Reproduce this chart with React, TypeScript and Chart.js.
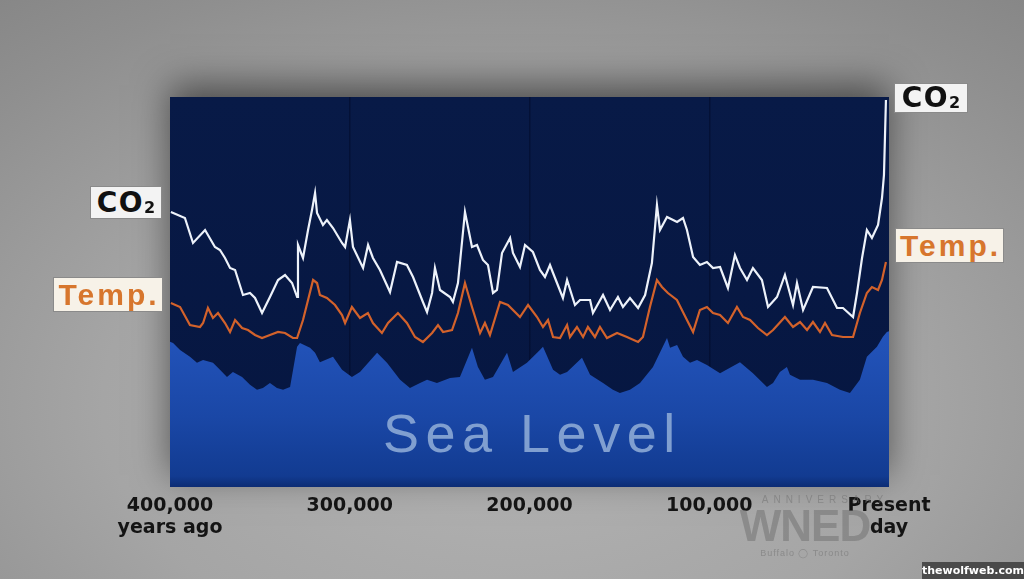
import React, { useEffect, useRef } from "react";
import { Chart, registerables } from "chart.js";

Chart.register(...registerables);

// thousands of years ago
const co2Years = [399.5, 391.7, 387.2, 380.5, 375.0, 372.2, 369.4, 366.6, 363.8, 359.4, 355.5, 352.7, 348.8, 344.4, 339.9, 336.0, 332.1, 329.3, 328.8, 326.0, 323.2, 321.0, 319.3, 318.2, 314.9, 312.7, 309.3, 304.3, 302.6, 299.9, 298.2, 292.6, 289.8, 287.1, 283.2, 277.6, 273.7, 268.2, 264.8, 259.3, 257.0, 254.2, 252.6, 249.8, 244.2, 242.6, 239.8, 235.9, 232.0, 229.2, 225.9, 223.1, 220.3, 218.1, 215.3, 210.8, 209.2, 205.3, 202.5, 198.1, 194.2, 191.4, 188.6, 186.9, 181.4, 179.1, 174.7, 171.9, 166.3, 164.7, 159.1, 155.2, 150.8, 148.0, 144.1, 139.6, 135.7, 131.9, 129.1, 127.4, 123.5, 117.9, 114.6, 112.4, 109.0, 105.2, 101.3, 97.9, 94.0, 89.6, 85.7, 82.9, 79.0, 75.7, 70.7, 67.3, 62.3, 57.9, 53.4, 51.2, 47.8, 42.3, 34.5, 28.9, 25.6, 20.0, 17.8, 15.0, 12.3, 9.5, 6.1, 3.9, 2.8, 1.7];
// ppm
const co2Ppm = [285, 279, 254, 267, 250, 247, 239, 229, 227, 202, 204, 199, 184, 200, 217, 222, 214, 200, 252, 239, 267, 287, 304, 284, 272, 277, 269, 254, 250, 277, 250, 229, 252, 239, 227, 205, 235, 232, 220, 195, 185, 204, 229, 207, 200, 195, 214, 285, 250, 252, 237, 232, 204, 207, 244, 259, 244, 230, 252, 245, 227, 220, 232, 224, 199, 217, 192, 197, 197, 184, 202, 187, 200, 190, 199, 189, 202, 234, 292, 267, 280, 275, 279, 267, 240, 232, 235, 229, 230, 209, 242, 229, 217, 229, 217, 190, 200, 222, 192, 214, 187, 210, 209, 189, 189, 180, 204, 239, 267, 259, 272, 299, 322, 397];

const tempYears = [399.5, 394.4, 388.9, 383.3, 381.6, 378.9, 376.1, 373.3, 369.4, 366.6, 363.8, 359.9, 356.6, 352.7, 348.8, 344.4, 339.9, 336.0, 331.6, 329.3, 326.0, 323.2, 320.4, 318.2, 316.6, 312.7, 308.2, 304.3, 302.6, 298.8, 294.3, 289.9, 287.1, 282.1, 278.7, 273.2, 268.2, 263.7, 259.3, 254.2, 250.9, 248.1, 243.1, 239.8, 235.9, 232.0, 227.5, 224.8, 222.0, 216.4, 212.0, 205.3, 200.8, 195.8, 192.5, 189.7, 186.9, 183.0, 179.1, 177.5, 173.6, 170.2, 167.5, 163.6, 160.8, 156.9, 151.3, 145.8, 139.6, 136.9, 133.0, 129.1, 126.3, 123.0, 118.0, 112.4, 109.0, 105.2, 101.3, 97.9, 94.0, 89.6, 84.6, 81.2, 77.3, 72.9, 67.9, 64.5, 57.9, 53.4, 49.5, 45.6, 42.3, 38.4, 35.6, 31.7, 25.6, 20.0, 16.2, 12.3, 9.5, 6.1, 3.9, 1.7];
// degrees C anomaly
const tempAnomaly = [1.25, 0.25, -4.25, -4.75, -3.75, 0, -2.5, -1.25, -3.75, -6, -3, -5, -5.5, -6.75, -7.5, -6.75, -6, -6.25, -7.5, -7.5, -3, 2, 7, 6.25, 3.25, 2.5, 0.75, -1.75, -3.75, 0.25, -2.5, -1.25, -3.75, -6.25, -3.75, -1.25, -3.75, -7.25, -8.5, -6.25, -4.25, -6, -5.5, -1.25, 6.25, 0.25, -6.25, -3.75, -6.75, 1.5, 0.75, -2.25, 0.75, -2.25, -4.75, -3, -7.25, -7.5, -4.25, -7.25, -4.75, -7.25, -4.75, -7.25, -4.75, -7.5, -6.25, -7.25, -8.5, -7.25, 0.25, 7, 5.25, 3.75, 2, -3, -6, -0.5, 0.25, -1.25, -1.75, -3.75, 0.25, -2.25, -3, -5, -6.75, -5.5, -2.25, -4.75, -3.5, -5.5, -3.5, -6, -3.75, -6.75, -7.25, -7.25, -1.25, 3.75, 5.25, 4.5, 7, 11.5];

const seaYears = [400, 398.3, 394.4, 388.9, 385.0, 381.6, 376.1, 372.2, 368.3, 365.0, 359.9, 355.5, 351.6, 348.3, 344.4, 340.5, 337.1, 333.2, 329.3, 327.7, 322.1, 319.3, 316.6, 309.3, 304.3, 298.8, 294.3, 284.8, 279.3, 272.0, 266.5, 260.9, 257.0, 251.5, 244.2, 238.7, 234.8, 232.0, 228.7, 224.8, 220.3, 212.5, 209.2, 201.4, 194.2, 192.5, 186.9, 183.0, 179.1, 170.8, 166.3, 159.1, 153.6, 149.7, 144.1, 138.5, 131.3, 123.5, 121.8, 117.9, 114.6, 110.7, 106.8, 101.3, 94.0, 82.9, 75.7, 67.9, 64.5, 60.7, 56.8, 55.1, 49.5, 42.3, 34.5, 27.3, 21.7, 16.2, 12.3, 6.7, 3.4, 1.2, 0];
// metres relative to present
const seaLevelM = [-18, -20, -33, -45, -56, -51, -56, -69, -82, -73, -82, -96, -105, -102, -93, -102, -105, -100, -27, -20, -29, -38, -55, -45, -69, -82, -73, -38, -56, -87, -102, -93, -87, -93, -84, -82, -51, -29, -64, -87, -82, -38, -73, -56, -33, -27, -69, -78, -73, -47, -78, -93, -105, -111, -105, -93, -64, -11, -29, -24, -45, -56, -51, -60, -75, -55, -75, -100, -93, -73, -64, -78, -87, -87, -93, -105, -111, -87, -45, -27, -9, 0, 1];

const tickYears = [400, 300, 200, 100, 0];
const tickLabels: (string | string[])[] = [["400,000", "years ago"], "300,000", "200,000", "100,000", ["Present", "day"]];

const toPoints = (xs: number[], ys: number[]) => xs.map((x, i) => ({ x, y: ys[i] }));

const plotBackground = {
  id: "plotBackground",
  beforeDraw(chart: any) {
    const { ctx, chartArea: a } = chart;
    if (!a) return;
    ctx.save();
    ctx.shadowColor = "rgba(0,0,0,0.5)";
    ctx.shadowBlur = 34;
    ctx.shadowOffsetY = -12;
    ctx.fillStyle = "#071844";
    ctx.fillRect(a.left, a.top, a.right - a.left, a.bottom - a.top);
    ctx.restore();
    ctx.save();
    const g = ctx.createLinearGradient(0, a.top, 0, a.bottom);
    g.addColorStop(0, "#081a47");
    g.addColorStop(1, "#061640");
    ctx.fillStyle = g;
    ctx.fillRect(a.left, a.top, a.right - a.left, a.bottom - a.top);
    ctx.restore();
  },
};

function ClimateChart() {
  const ref = useRef<HTMLCanvasElement | null>(null);
  useEffect(() => {
    if (!ref.current) return;
    const chart = new Chart(ref.current, {
      type: "line",
      data: {
        datasets: [
          {
            label: "CO2",
            data: toPoints(co2Years, co2Ppm),
            yAxisID: "y",
            borderColor: "#edf2fa",
            borderWidth: 2.2,
            pointRadius: 0,
            tension: 0,
            fill: false,
          },
          {
            label: "Temp.",
            data: toPoints(tempYears, tempAnomaly),
            yAxisID: "yT",
            borderColor: "#d3622b",
            borderWidth: 2.2,
            pointRadius: 0,
            tension: 0,
            fill: false,
          },
          {
            label: "Sea Level",
            data: toPoints(seaYears, seaLevelM),
            yAxisID: "yS",
            borderWidth: 0,
            borderColor: "rgba(0,0,0,0)",
            pointRadius: 0,
            tension: 0,
            fill: "start",
            backgroundColor: (c: any) => {
              const ch = c.chart;
              const a = ch.chartArea;
              if (!a) return "#1d4cae";
              const top = ch.scales.yS.getPixelForValue(0);
              const g = ch.ctx.createLinearGradient(0, top, 0, a.bottom);
              g.addColorStop(0, "#2354bb");
              g.addColorStop(0.55, "#1a47a6");
              g.addColorStop(0.93, "#123b91");
              g.addColorStop(1, "#0c2c74");
              return g;
            },
          },
        ],
      },
      options: {
        responsive: false,
        maintainAspectRatio: false,
        animation: false,
        events: [],
        layout: { padding: { left: 170, right: 135, top: 97, bottom: 0 } },
        plugins: { legend: { display: false }, tooltip: { enabled: false } },
        scales: {
          x: {
            type: "linear",
            reverse: true,
            min: 0,
            max: 400,
            afterBuildTicks: (s: any) => {
              s.ticks = tickYears.map((v) => ({ value: v }));
            },
            afterFit: (s: any) => {
              s.height = 92;
            },
            ticks: {
              autoSkip: false,
              maxRotation: 0,
              padding: 8,
              color: "#141414",
              font: { family: "'DejaVu Sans', sans-serif", weight: "bold", size: 19, lineHeight: 1.15 },
              callback: (_v: any, i: number) => tickLabels[i],
            },
            grid: {
              drawTicks: false,
              lineWidth: 1.5,
              color: (c: any) =>
                c.tick && (c.tick.value === 0 || c.tick.value === 400) ? "rgba(0,0,0,0)" : "rgba(0,6,30,0.4)",
            },
            border: { display: false },
          },
          y: { type: "linear", display: false, min: 10, max: 400 },
          yT: { type: "linear", display: false, min: -44.75, max: 52.75 },
          yS: { type: "linear", display: false, min: -282, max: 427 },
        },
      } as any,
      plugins: [plotBackground],
    });
    return () => chart.destroy();
  }, []);
  return <canvas ref={ref} width={1024} height={579} style={{ position: "absolute", left: 0, top: 0, display: "block" }} />;
}

const boxBase: React.CSSProperties = {
  position: "absolute",
  boxSizing: "border-box",
  border: "1px solid #8a8a8a",
  display: "flex",
  alignItems: "center",
  justifyContent: "center",
  fontWeight: 700,
  whiteSpace: "nowrap",
};

function Co2Label({ left, top, width, height }: { left: number; top: number; width: number; height: number }) {
  return (
    <div style={{ ...boxBase, left, top, width, height, background: "#f3f3f3", color: "#111", fontFamily: "'DejaVu Sans', sans-serif" }}>
      <span style={{ fontSize: 28, letterSpacing: 1.5, lineHeight: 1 }}>
        CO<span style={{ fontSize: 16, position: "relative", top: 1, letterSpacing: 0 }}>2</span>
      </span>
    </div>
  );
}

function TempLabel({ left, top, width, height }: { left: number; top: number; width: number; height: number }) {
  return (
    <div
      style={{
        ...boxBase,
        left,
        top,
        width,
        height,
        background: "#f7f2e8",
        color: "#d7762d",
        fontFamily: "'Liberation Sans', Arial, sans-serif",
      }}
    >
      <span style={{ fontSize: 30, letterSpacing: 3, lineHeight: 1, paddingLeft: 2 }}>Temp.</span>
    </div>
  );
}

export default function App() {
  return (
    <div
      style={{
        position: "fixed",
        left: 0,
        top: 0,
        width: 1024,
        height: 579,
        overflow: "hidden",
        background:
          "radial-gradient(ellipse 80% 90% at 50% 70%, #b4b4b4 0%, #a5a5a5 50%, #8f8f8f 85%, #878787 100%)",
      }}
    >
      <ClimateChart />
      <div
        style={{
          position: "absolute",
          left: 383,
          top: 406,
          fontFamily: "'Liberation Sans', Arial, sans-serif",
          fontSize: 54,
          lineHeight: 1,
          letterSpacing: 6.5,
          color: "#809fd0",
          whiteSpace: "nowrap",
        }}
      >
        Sea Level
      </div>
      <Co2Label left={90} top={186} width={72} height={33} />
      <TempLabel left={53} top={277} width={110} height={35} />
      <Co2Label left={894} top={83} width={74} height={30} />
      <TempLabel left={895} top={228} width={109} height={35} />
      <div
        style={{
          position: "absolute",
          left: 720,
          top: 494,
          width: 170,
          textAlign: "center",
          color: "rgba(110,110,110,0.5)",
          fontFamily: "'Liberation Sans', Arial, sans-serif",
          pointerEvents: "none",
        }}
      >
        <div style={{ fontSize: 10, letterSpacing: 5, lineHeight: "12px", paddingLeft: 40 }}>ANNIVERSARY</div>
        <div style={{ fontSize: 44, fontWeight: 700, lineHeight: "40px", letterSpacing: -1 }}>WNED</div>
        <div style={{ fontSize: 9, lineHeight: "14px", letterSpacing: 1 }}>Buffalo ◯ Toronto</div>
      </div>
      <div
        style={{
          position: "absolute",
          left: 922,
          top: 562,
          width: 102,
          height: 17,
          background: "rgba(60,60,60,0.85)",
          color: "#fff",
          fontFamily: "'DejaVu Sans', sans-serif",
          fontWeight: 700,
          fontSize: 11,
          lineHeight: "17px",
          textAlign: "center",
        }}
      >
        thewolfweb.com
      </div>
    </div>
  );
}
